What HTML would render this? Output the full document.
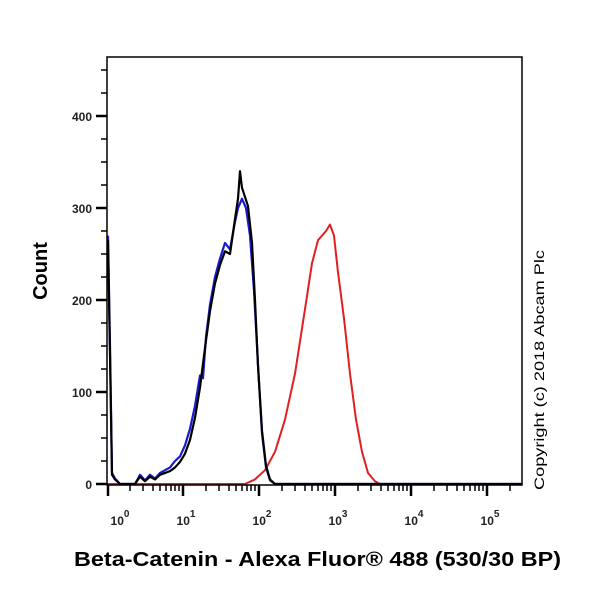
<!DOCTYPE html>
<html><head><style>body{margin:0;background:#fff}</style></head><body>
<svg width="600" height="600" viewBox="0 0 600 600" xmlns="http://www.w3.org/2000/svg" font-family="Liberation Sans, Arial, sans-serif">
<rect width="600" height="600" fill="#fff"/>
<g transform="translate(0,484) scale(1,-0.92)" fill="none" stroke-linejoin="round">
<path vector-effect="non-scaling-stroke" stroke="#e02020" stroke-width="2" d="M107,0 L245,0 255,5 265,15 275,35 285,70 295,120 305,190 312,240 318,265 322,270 326,275 330,282 334,270 338,230 344,180 350,120 356,70 362,35 368,12 375,3 380,0 522,0"/>
<path vector-effect="non-scaling-stroke" stroke="#1a1acc" stroke-width="2.2" d="M108,270 110,150 112,12 115,6 120,0 135,0 140,10 145,4 150,10 155,6 160,12 170,18 175,25 180,30 185,42 190,60 195,85 200,118 203,115 206,160 210,195 215,225 220,245 225,262 230,255 235,285 238,300 242,310 246,300 250,270 254,210 258,130 262,55 266,18 270,4 275,0 522,0"/>
<path vector-effect="non-scaling-stroke" stroke="#000" stroke-width="2.2" d="M108,265 110,140 112,10 115,5 120,0 135,0 140,8 145,3 150,8 155,5 160,10 170,14 175,18 180,24 185,33 190,48 195,72 200,105 205,148 210,188 215,218 220,238 225,253 230,250 235,288 238,310 240,340 242,322 245,312 248,302 252,262 255,200 258,128 262,58 266,20 270,5 275,0 522,0"/>
</g>
<g stroke="#000" fill="none">
<rect x="107" y="57" width="415" height="428" stroke-width="1.5"/>
<g stroke-width="2.5">
<line x1="96" y1="484" x2="107" y2="484"/><line x1="96" y1="392" x2="107" y2="392"/><line x1="96" y1="300" x2="107" y2="300"/><line x1="96" y1="208" x2="107" y2="208"/><line x1="96" y1="116" x2="107" y2="116"/>
</g>
<g stroke-width="1.5">
<line x1="101" y1="461" x2="107" y2="461"/><line x1="101" y1="438" x2="107" y2="438"/><line x1="101" y1="415" x2="107" y2="415"/>
<line x1="101" y1="369" x2="107" y2="369"/><line x1="101" y1="346" x2="107" y2="346"/><line x1="101" y1="323" x2="107" y2="323"/>
<line x1="101" y1="277" x2="107" y2="277"/><line x1="101" y1="254" x2="107" y2="254"/><line x1="101" y1="231" x2="107" y2="231"/>
<line x1="101" y1="185" x2="107" y2="185"/><line x1="101" y1="162" x2="107" y2="162"/><line x1="101" y1="139" x2="107" y2="139"/>
<line x1="101" y1="93" x2="107" y2="93"/><line x1="101" y1="70" x2="107" y2="70"/>
</g>
<g stroke-width="2.5">
<line x1="108" y1="485" x2="108" y2="496"/><line x1="183" y1="485" x2="183" y2="496"/><line x1="259" y1="485" x2="259" y2="496"/><line x1="335" y1="485" x2="335" y2="496"/><line x1="411" y1="485" x2="411" y2="496"/><line x1="487" y1="485" x2="487" y2="496"/>
</g>
<path stroke-width="1.5" d="M130,485v6M143,485v6M153,485v6M160,485v6M166,485v6M171,485v6M175,485v6M179,485v6M206,485v6M219,485v6M229,485v6M236,485v6M242,485v6M247,485v6M251,485v6M255,485v6M282,485v6M295,485v6M305,485v6M312,485v6M318,485v6M323,485v6M327,485v6M331,485v6M358,485v6M371,485v6M381,485v6M388,485v6M394,485v6M399,485v6M403,485v6M407,485v6M434,485v6M447,485v6M457,485v6M464,485v6M470,485v6M475,485v6M479,485v6M483,485v6M510,485v6"/>
</g>
<g font-size="12" font-weight="bold" fill="#222" text-anchor="end">
<text x="92" y="489">0</text><text x="92" y="397">100</text><text x="92" y="305">200</text><text x="92" y="213">300</text><text x="92" y="121">400</text>
</g>
<g font-size="12" font-weight="bold" fill="#222" text-anchor="middle">
<text x="120" y="525">10<tspan font-size="10" dy="-8">0</tspan></text>
<text x="186" y="525">10<tspan font-size="10" dy="-8">1</tspan></text>
<text x="262" y="525">10<tspan font-size="10" dy="-8">2</tspan></text>
<text x="338" y="525">10<tspan font-size="10" dy="-8">3</tspan></text>
<text x="414" y="525">10<tspan font-size="10" dy="-8">4</tspan></text>
<text x="490" y="525">10<tspan font-size="10" dy="-8">5</tspan></text>
</g>
<text x="47" y="271" font-size="20" font-weight="bold" text-anchor="middle" transform="rotate(-90 47 271)">Count</text>
<text x="74" y="566" font-size="20" font-weight="bold" textLength="487" lengthAdjust="spacingAndGlyphs">Beta-Catenin - Alexa Fluor® 488 (530/30 BP)</text>
<text x="544" y="490" font-size="14" textLength="240" lengthAdjust="spacingAndGlyphs" transform="rotate(-90 544 490)">Copyright (c) 2018 Abcam Plc</text>
</svg>
</body></html>
